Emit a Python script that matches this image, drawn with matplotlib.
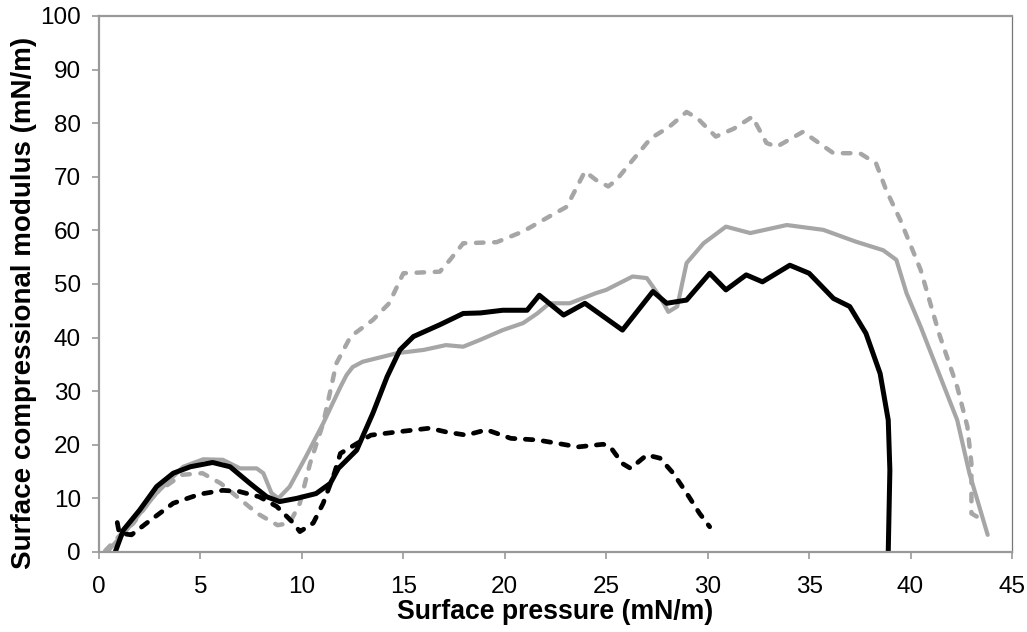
import matplotlib
matplotlib.use('Agg')
import matplotlib.pyplot as plt

plt.rcParams['font.family'] = ['Liberation Sans', 'DejaVu Sans']

# gray dashed curve
gd_x = [0.3, 1.0, 1.7, 2.8, 4.1, 5.1, 6.0, 7.0, 7.8, 8.8, 9.4, 9.9, 10.4, 11.05, 11.7, 12.4,
        13.5, 14.3, 15.0, 16.8, 17.3, 17.95, 19.6, 20.9, 22.2, 23.05, 23.95, 24.5, 25.1, 25.5,
        26.3, 27.2, 28.1, 28.96, 29.5, 30.4, 31.3, 32.2, 32.9, 33.4, 34.7, 36.2, 37.5, 38.3,
        38.8, 39.5, 40.5, 41.4, 42.3, 42.8, 43.0, 43.0, 43.4]
gd_y = [0.2, 3.0, 5.4, 11.0, 14.4, 14.7, 12.8, 9.7, 7.2, 5.0, 5.4, 9.1, 16.5, 24.0, 35.2, 40.2,
        43.3, 46.4, 52.0, 52.3, 54.5, 57.6, 57.8, 59.8, 62.6, 64.4, 71.0, 69.4, 68.2, 69.4,
        73.1, 77.2, 79.3, 82.1, 80.9, 77.5, 79.0, 81.2, 76.3, 75.6, 78.4, 74.4, 74.4, 72.5,
        67.5, 61.9, 52.6, 40.8, 30.8, 23.4, 16.5, 7.2, 6.3]

# gray solid curve
gs_x = [0.4, 1.36, 2.84, 4.15, 5.14, 6.1, 6.95, 7.77, 8.1, 8.5, 8.84, 9.4, 10.2, 11.05, 11.9,
        12.2, 12.5, 13.0, 14.7, 16.0, 17.1, 17.95, 18.8, 19.9, 20.9, 21.6, 22.2, 23.2, 24.5, 25.0,
        26.3, 27.0, 27.65, 28.06, 28.5, 28.96, 29.8, 30.9, 32.1, 33.9, 35.7, 37.3, 38.65,
        39.3, 39.8, 40.5, 41.4, 42.3, 42.9, 43.8]
gs_y = [0.0, 4.1, 11.0, 15.9, 17.3, 17.2, 15.6, 15.6, 14.7, 11.0, 10.0, 12.2, 17.8, 24.0, 30.8,
        33.0, 34.5, 35.5, 37.1, 37.7, 38.6, 38.3, 39.6, 41.4, 42.7, 44.5, 46.4, 46.4, 48.3, 48.9,
        51.4, 51.1, 47.6, 44.8, 45.8, 53.9, 57.6, 60.7, 59.5, 61.0, 60.1, 57.9, 56.3,
        54.5, 48.3, 42.0, 33.3, 24.6, 14.7, 3.2]

# black solid curve
bs_x = [0.8, 1.2, 2.0, 2.84, 3.66, 4.5, 5.6, 6.46, 7.44, 8.27, 8.9, 9.74, 10.7, 11.4, 11.8,
        12.7, 13.5, 14.2, 14.83, 15.5, 16.8, 17.95, 18.8, 19.9, 21.1, 21.7, 22.9, 23.95, 25.8,
        27.3, 27.98, 28.96, 30.1, 30.9, 31.9, 32.7, 34.05, 35.0, 36.2, 37.0, 37.8, 38.5,
        38.9, 38.98, 38.9]
bs_y = [0.0, 4.1, 7.8, 12.2, 14.7, 15.9, 16.7, 15.9, 12.8, 10.3, 9.4, 10.0, 10.9, 12.8, 15.6,
        19.0, 25.9, 32.7, 37.7, 40.2, 42.4, 44.5, 44.6, 45.1, 45.1, 47.9, 44.2, 46.4, 41.4,
        48.6, 46.4, 47.0, 52.0, 48.9, 51.7, 50.4, 53.5, 52.0, 47.3, 45.8, 40.8, 33.3,
        24.6, 15.3, 0.0]

# black dashed curve
bd_x = [0.9, 1.0, 1.6, 2.35, 3.66, 4.98, 6.1, 6.9, 7.9, 8.76, 9.58, 9.9, 10.56, 11.05, 11.6,
        11.9, 13.4, 14.7, 16.3, 17.1, 18.1, 19.1, 20.3, 21.6, 22.55, 23.6, 24.85, 25.2, 25.8,
        26.2, 27.0, 27.65, 28.3, 28.96, 29.6, 30.1]
bd_y = [5.5, 3.5, 3.2, 5.4, 9.1, 10.8, 11.5, 11.3, 10.3, 8.5, 5.4, 3.8, 5.4, 9.1, 14.7,
        18.4, 21.8, 22.4, 23.1, 22.4, 21.8, 22.8, 21.2, 20.9, 20.3, 19.6, 20.1, 19.6, 16.5,
        15.6, 18.1, 17.5, 14.7, 11.0, 7.2, 4.7]

x_ticks = [0, 5, 10, 15, 20, 25, 30, 35, 40, 45]
y_ticks = [0, 10, 20, 30, 40, 50, 60, 70, 80, 90, 100]

gris = '#a6a6a6'

fig = plt.figure(figsize=(10.27, 6.32), dpi=100)
ax = fig.add_axes([0.0964, 0.1266, 0.889, 0.8481])

estilo = dict(solid_capstyle='round', solid_joinstyle='round',
              dash_capstyle='round', dash_joinstyle='round')
ax.plot(gd_x, gd_y, color=gris, lw=3.2, dashes=(1.7, 2.4), **estilo)
ax.plot(gs_x, gs_y, color=gris, lw=3.0, **estilo)
ax.plot(bd_x, bd_y, color='black', lw=3.4, dashes=(1.6, 2.2), **estilo)
ax.plot(bs_x, bs_y, color='black', lw=3.6, **estilo)

ax.set_xlim(0, 45)
ax.set_ylim(0, 100)
ax.set_xticks(x_ticks)
ax.set_yticks(y_ticks)
ax.tick_params(axis='both', direction='out', length=5, width=1.2, colors='#999999',
               labelcolor='black', labelsize=17.5)
ax.tick_params(axis='x', pad=12)
ax.tick_params(axis='y', pad=8)

for lado in ['left', 'bottom', 'top']:
    ax.spines[lado].set_color('#999999')
    ax.spines[lado].set_linewidth(1.6)
ax.spines['right'].set_color('#777777')
ax.spines['right'].set_linewidth(0.9)

ax.set_xlabel('Surface pressure (mN/m)', fontsize=19.2, fontweight='bold', labelpad=1)
ax.set_ylabel('Surface compressional modulus (mN/m)', fontsize=20, fontweight='bold')
ax.yaxis.set_label_coords(-0.068, 0.465)

fig.savefig('out.png', dpi=100)
